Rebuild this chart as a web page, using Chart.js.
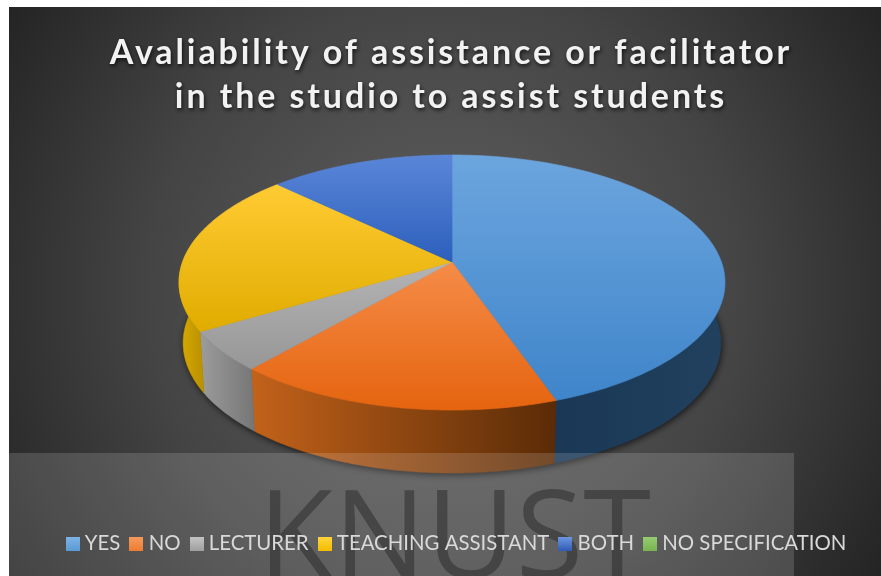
<!DOCTYPE html>
<html>
<head>
<meta charset="utf-8">
<title>Availability of assistance</title>
<style>html,body{margin:0;padding:0;background:#fff}canvas{display:block}</style>
<script src="https://cdn.jsdelivr.net/npm/chart.js@4"></script>
</head>
<body>
<canvas id="pie" width="881" height="576"></canvas>
<script>
const categories = ['YES', 'NO', 'LECTURER', 'TEACHING ASSISTANT', 'BOTH', 'NO SPECIFICATION'];
const shares = [44.7, 16.65, 5.05, 20.8, 12.8, 0];
const solidColours = ['#5b9bd5', '#ed7d31', '#a5a5a5', '#ffc000', '#4472c4', '#70ad47'];
const titleLines = ['Avaliability of assistance or facilitator', 'in the studio to assist students'];

// Per-slice paint: top face gradient, side wall gradient, legend swatch gradient
const topPaint = [['#6ca5de', '#3f85ca'], ['#f58c48', '#e5640f'], ['#b4b4b4', '#979797'], ['#ffcb33', '#e0ac00'], ['#5a86d8', '#2c5fbc'], ['#8fc46b', '#6aa840']];
const wallPaint = [['#1a3855', '#21415f'], ['#c2621a', '#5a2b07'], ['#9c9c9c', '#767676'], ['#d8aa00', '#b89000'], ['#2a4a8c', '#1f3a70'], ['#5f8f3c', '#4c7530']];
const swatchPaint = [['#7db3e8', '#5b9bd5'], ['#f79a5f', '#ed7d31'], ['#c4c4c4', '#a0a0a0'], ['#ffd53f', '#f5bb00'], ['#6f97e0', '#2f5db5'], ['#97cc72', '#7ab552']];

// Perspective projection of the unit disc onto the tilted pie face
const hub = { x: 452, y: 262 };
const tilt = -0.161, radiusX = 269.4, radiusY = 124.2;
const project = (a) => {
  const u = Math.cos(a), v = Math.sin(a), w = 1 + tilt * v;
  return { x: radiusX * u / w, y: radiusY * v / w };
};
const topPoint = (a) => { const p = project(a); return { x: hub.x + p.x, y: hub.y + p.y }; };
const basePoint = (a) => { const p = project(a); return { x: hub.x + 0.985 * p.x, y: hub.y + 60 + 1.02 * p.y }; };

function sweep(start, end) {
  const out = [], n = Math.max(2, Math.ceil((end - start) / 0.01));
  for (let i = 0; i <= n; i++) out.push(start + (end - start) * i / n);
  return out;
}
function tracePath(ctx, pts) {
  pts.forEach((p, i) => i ? ctx.lineTo(p.x, p.y) : ctx.moveTo(p.x, p.y));
  ctx.closePath();
}
function bounds(pts) {
  const xs = pts.map(p => p.x), ys = pts.map(p => p.y);
  return { l: Math.min(...xs), r: Math.max(...xs), t: Math.min(...ys), b: Math.max(...ys) };
}

function drawBackdrop(ctx) {
  ctx.fillStyle = '#ffffff';
  ctx.fillRect(0, 0, 881, 576);
  const g = ctx.createRadialGradient(445, 290, 30, 445, 290, 520);
  g.addColorStop(0, '#5e5e5e');
  g.addColorStop(0.55, '#444444');
  g.addColorStop(1, '#242424');
  ctx.fillStyle = g;
  ctx.fillRect(9, 7, 872, 569);
}

function drawHeading(ctx) {
  ctx.save();
  ctx.font = 'bold 34px Lato, "Open Sans", sans-serif';
  ctx.letterSpacing = '2.9px';
  ctx.textAlign = 'center';
  ctx.textBaseline = 'middle';
  ctx.fillStyle = '#f2f2f2';
  ctx.shadowColor = 'rgba(0,0,0,0.75)';
  ctx.shadowBlur = 4;
  ctx.shadowOffsetX = 1;
  ctx.shadowOffsetY = 2;
  ctx.fillText(titleLines[0], 451, 53);
  ctx.fillText(titleLines[1], 451, 97);
  ctx.restore();
}

function drawPie3D(ctx, arcs) {
  // Ground shadow under the whole disc
  ctx.save();
  ctx.shadowColor = 'rgba(0,0,0,0.7)';
  ctx.shadowBlur = 7;
  ctx.shadowOffsetX = 1;
  ctx.shadowOffsetY = 2;
  ctx.fillStyle = '#222';
  ctx.beginPath();
  tracePath(ctx, sweep(0, Math.PI * 2).map(basePoint));
  ctx.fill();
  ctx.restore();

  // Front walls
  arcs.forEach((arc, i) => {
    const angles = sweep(arc.startAngle, arc.endAngle).filter(a => Math.sin(a) > -0.25);
    if (angles.length < 2) return;
    const upper = angles.map(topPoint), lower = angles.map(basePoint).reverse();
    const box = bounds(upper.concat(lower));
    const g = ctx.createLinearGradient(box.l, 0, box.r, 0);
    g.addColorStop(0, wallPaint[i][0]);
    g.addColorStop(1, wallPaint[i][1]);
    ctx.fillStyle = g;
    ctx.strokeStyle = g;
    ctx.lineWidth = 0.6;
    ctx.beginPath();
    tracePath(ctx, upper.concat(lower));
    ctx.fill();
    ctx.stroke();
  });

  // Top faces
  arcs.forEach((arc, i) => {
    if (arc.endAngle - arc.startAngle <= 0) return;
    const rim = sweep(arc.startAngle, arc.endAngle).map(topPoint);
    const pts = [{ x: hub.x, y: hub.y }].concat(rim);
    const box = bounds(pts);
    const g = ctx.createLinearGradient(0, box.t, 0, box.b);
    g.addColorStop(0, topPaint[i][0]);
    g.addColorStop(1, topPaint[i][1]);
    ctx.fillStyle = g;
    ctx.strokeStyle = g;
    ctx.lineWidth = 0.7;
    ctx.lineJoin = 'round';
    ctx.beginPath();
    tracePath(ctx, pts);
    ctx.stroke();
    ctx.fill();
  });
}

function drawWatermark(ctx) {
  ctx.save();
  ctx.fillStyle = 'rgba(255,255,255,0.15)';
  ctx.fillRect(9, 453, 785, 123);
  ctx.beginPath();
  ctx.rect(9, 453, 785, 123);
  ctx.clip();
  ctx.font = '400 123px "Open Sans", sans-serif';
  ctx.textAlign = 'center';
  ctx.textBaseline = 'alphabetic';
  ctx.fillStyle = 'rgba(40,40,40,0.5)';
  ctx.fillText('KNUST', 454.5, 578);
  ctx.restore();
}

function makeSwatch([from, to]) {
  const c = document.createElement('canvas');
  c.width = 14; c.height = 14;
  const x = c.getContext('2d');
  const g = x.createLinearGradient(0, 0, 0, 14);
  g.addColorStop(0, from);
  g.addColorStop(1, to);
  x.fillStyle = g;
  x.fillRect(0, 0, 14, 14);
  return c;
}
const swatches = swatchPaint.map(makeSwatch);

const scenePlugin = {
  id: 'scene',
  beforeDraw(chart) {
    const ctx = chart.ctx;
    drawBackdrop(ctx);
    drawHeading(ctx);
    drawPie3D(ctx, chart.getDatasetMeta(0).data);
    drawWatermark(ctx);
  },
  // The slices are painted with the projected faces above
  beforeDatasetDraw() { return false; }
};

new Chart(document.getElementById('pie'), {
  type: 'pie',
  data: {
    labels: categories,
    datasets: [{ data: shares, backgroundColor: solidColours, borderWidth: 0 }]
  },
  options: {
    responsive: false,
    animation: false,
    layout: { padding: { left: 36, bottom: 12 } },
    plugins: {
      tooltip: { enabled: false },
      legend: {
        position: 'bottom',
        onClick: null,
        labels: {
          color: '#d9d9d9',
          font: { family: 'Lato, "Open Sans", sans-serif', size: 20.4 },
          usePointStyle: true,
          boxWidth: 4,
          padding: 14,
          generateLabels: () => categories.map((text, i) => ({
            text,
            pointStyle: swatches[i],
            fontColor: '#d9d9d9',
            lineWidth: 0,
            hidden: false,
            index: i
          }))
        }
      }
    }
  },
  plugins: [scenePlugin]
});
</script>
</body>
</html>
